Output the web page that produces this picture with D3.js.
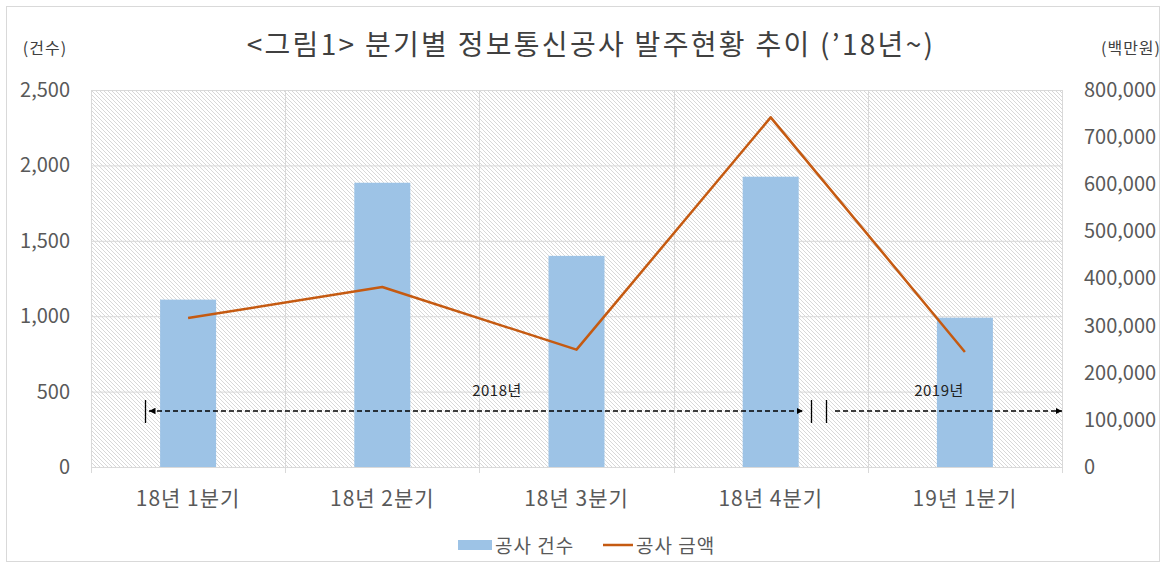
<!DOCTYPE html>
<html>
<head>
<meta charset="utf-8">
<script src="https://cdn.jsdelivr.net/npm/d3@7"></script>
<style>
  body { margin: 0; background: #fff; }
  text { font-family: "Noto Sans CJK KR", "Noto Sans", sans-serif; }
</style>
</head>
<body>
<div id="chart"></div>
<script>
// data
const categories = ["18년 1분기", "18년 2분기", "18년 3분기", "18년 4분기", "19년 1분기"];
const counts = [1110, 1885, 1400, 1925, 990];            // 공사 건수
const amounts = [316000, 382000, 249000, 742000, 244000]; // 공사 금액 (백만원)
const leftTicks = [0, 500, 1000, 1500, 2000, 2500];
const rightTicks = [0, 100000, 200000, 300000, 400000, 500000, 600000, 700000, 800000];

const W = 1166, H = 568;
const margin = {top: 90, right: 104, bottom: 101, left: 91};
const width = W - margin.left - margin.right;
const height = H - margin.top - margin.bottom;

const svg = d3.select("#chart").append("svg")
    .attr("width", W)
    .attr("height", H);

// outer frame
svg.append("rect")
    .attr("x", 6.5).attr("y", 6.5)
    .attr("width", W - 13).attr("height", H - 13)
    .attr("fill", "#fff")
    .attr("stroke", "#d9d9d9");

// hatch pattern for the plot background
const defs = svg.append("defs");
const pat = defs.append("pattern")
    .attr("id", "hatch")
    .attr("patternUnits", "userSpaceOnUse")
    .attr("width", 4).attr("height", 4);
pat.append("rect").attr("width", 4).attr("height", 4).attr("fill", "#fff");
pat.append("path")
    .attr("d", "M-1,-1 L5,5 M-1,3 L1,5 M3,-1 L5,1")
    .attr("stroke", "#d4d4d4")
    .attr("stroke-width", 0.9);

const g = svg.append("g")
    .attr("transform", "translate(" + margin.left + "," + margin.top + ")");

// scales
const x = d3.scaleBand().domain(categories).range([0, width]);
const yL = d3.scaleLinear().domain([0, 2500]).range([height, 0]);
const yR = d3.scaleLinear().domain([0, 800000]).range([height, 0]);

g.append("rect")
    .attr("width", width).attr("height", height)
    .attr("fill", "url(#hatch)");

// gridlines
g.append("g").selectAll("line")
    .data(leftTicks)
    .enter().append("line")
    .attr("x1", 0).attr("x2", width)
    .attr("y1", d => yL(d) + 0.5).attr("y2", d => yL(d) + 0.5)
    .attr("stroke", "#d9d9d9");
const bounds = categories.map(c => x(c)).concat([width]);
g.append("g").selectAll("line")
    .data(bounds)
    .enter().append("line")
    .attr("x1", d => Math.round(d) + 0.5).attr("x2", d => Math.round(d) + 0.5)
    .attr("y1", 0).attr("y2", height + 6)
    .attr("stroke", "#d9d9d9");

// axes
const leftAxis = g.append("g")
    .call(d3.axisLeft(yL).tickValues(leftTicks).tickSize(0).tickPadding(21).tickFormat(d3.format(",")));
leftAxis.select(".domain").remove();
leftAxis.selectAll("text").attr("font-size", 20).attr("fill", "#595959");

const rightAxis = g.append("g")
    .attr("transform", "translate(" + width + ",0)")
    .call(d3.axisRight(yR).tickValues(rightTicks).tickSize(0).tickPadding(22).tickFormat(d3.format(",")));
rightAxis.select(".domain").remove();
rightAxis.selectAll("text").attr("font-size", 20).attr("fill", "#595959");

const bottomAxis = g.append("g")
    .attr("transform", "translate(0," + height + ")")
    .call(d3.axisBottom(x).tickSize(0).tickPadding(24));
bottomAxis.select(".domain").remove();
bottomAxis.selectAll("text").attr("font-size", 21).attr("letter-spacing", 1).attr("fill", "#595959");

// bars
const barW = 56;
g.selectAll(".bar")
    .data(counts)
    .enter().append("rect")
    .attr("class", "bar")
    .attr("x", (d, i) => x(categories[i]) + x.bandwidth() / 2 - barW / 2)
    .attr("width", barW)
    .attr("y", d => yL(d))
    .attr("height", d => height - yL(d))
    .attr("fill", "#9dc3e6");

// line
const line = d3.line()
    .x((d, i) => x(categories[i]) + x.bandwidth() / 2)
    .y(d => yR(d));
g.append("path")
    .datum(amounts)
    .attr("d", line)
    .attr("fill", "none")
    .attr("stroke", "#c55a11")
    .attr("stroke-width", 2.5)
    .attr("stroke-linejoin", "round");

// year annotation arrows
defs.append("marker")
    .attr("id", "arr")
    .attr("viewBox", "0 0 10 10")
    .attr("refX", 10).attr("refY", 5)
    .attr("markerWidth", 5).attr("markerHeight", 5)
    .attr("orient", "auto-start-reverse")
    .append("path").attr("d", "M0,0 L10,5 L0,10 z").attr("fill", "#000");

const ann = svg.append("g");
const ay = 411;
ann.append("line")
    .attr("x1", 149).attr("x2", 803).attr("y1", ay).attr("y2", ay)
    .attr("stroke", "#000").attr("stroke-width", 1.3).attr("stroke-dasharray", "5,3")
    .attr("marker-start", "url(#arr)").attr("marker-end", "url(#arr)");
ann.append("line")
    .attr("x1", 835).attr("x2", 1062).attr("y1", ay).attr("y2", ay)
    .attr("stroke", "#000").attr("stroke-width", 1.3).attr("stroke-dasharray", "5,3")
    .attr("marker-end", "url(#arr)");
[145.5, 811.5, 826.5].forEach(function(px) {
    ann.append("line")
        .attr("x1", px).attr("x2", px).attr("y1", 400).attr("y2", 423)
        .attr("stroke", "#000").attr("stroke-width", 1.3);
});
ann.append("text").attr("x", 497).attr("y", 396).attr("text-anchor", "middle")
    .attr("font-size", 15).attr("letter-spacing", 0.5).attr("fill", "#222").text("2018년");
ann.append("text").attr("x", 939).attr("y", 396).attr("text-anchor", "middle")
    .attr("font-size", 15).attr("letter-spacing", 0.5).attr("fill", "#222").text("2019년");

// titles
svg.append("text").attr("x", 591).attr("y", 55).attr("text-anchor", "middle")
    .attr("font-size", 28).attr("letter-spacing", 2.3).attr("fill", "#404040")
    .text("<그림1> 분기별 정보통신공사 발주현황 추이 (’18년~)");
svg.append("text").attr("x", 45).attr("y", 54).attr("text-anchor", "middle")
    .attr("font-size", 16).attr("letter-spacing", 1).attr("fill", "#404040").text("(건수)");
svg.append("text").attr("x", 1131).attr("y", 54).attr("text-anchor", "middle")
    .attr("font-size", 16).attr("letter-spacing", 1).attr("fill", "#404040").text("(백만원)");

// legend
const lg = svg.append("g");
lg.append("rect").attr("x", 458).attr("y", 540).attr("width", 34).attr("height", 10).attr("fill", "#9dc3e6");
lg.append("text").attr("x", 495).attr("y", 553).attr("font-size", 19).attr("letter-spacing", 1).attr("fill", "#595959").text("공사 건수");
lg.append("line").attr("x1", 603).attr("x2", 633).attr("y1", 545).attr("y2", 545)
    .attr("stroke", "#c55a11").attr("stroke-width", 2.5);
lg.append("text").attr("x", 636).attr("y", 553).attr("font-size", 19).attr("letter-spacing", 1).attr("fill", "#595959").text("공사 금액");
</script>
</body>
</html>
